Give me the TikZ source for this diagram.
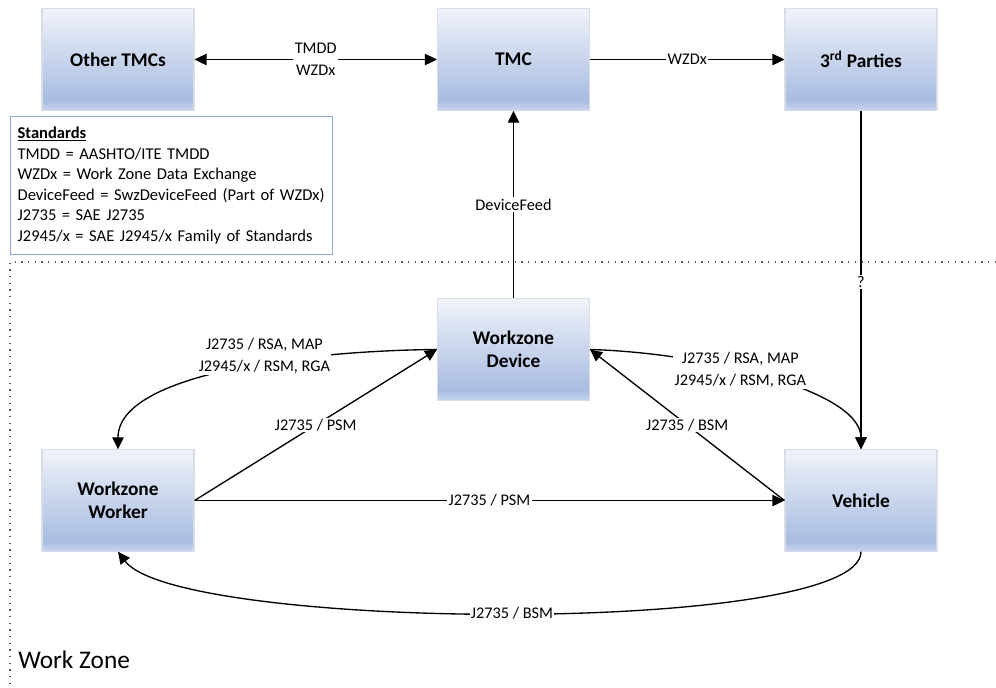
\documentclass[tikz,border=0pt]{standalone}
\usepackage{fontspec}
\setmainfont{Carlito}
\usetikzlibrary{arrows.meta}
\definecolor{boxtop}{RGB}{240,243,250}
\definecolor{boxmid}{RGB}{168,188,225}
\definecolor{boxlow}{RGB}{200,213,238}
\definecolor{boxedge}{RGB}{216,221,230}
\definecolor{stdedge}{RGB}{142,169,219}
\definecolor{dotcol}{RGB}{90,90,90}
\pgfdeclareverticalshading{boxshade}{100bp}{color(0bp)=(boxlow); color(25bp)=(boxlow); color(30bp)=(boxmid); color(75bp)=(boxtop); color(100bp)=(boxtop)}
\begin{document}
\begin{tikzpicture}[x=0.75pt,y=-0.75pt,
  blk/.style={shading=boxshade, draw=boxedge, line width=0.8pt, minimum width=114pt, minimum height=76pt,
    align=center, font=\fontsize{14.5pt}{17.25pt}\selectfont\bfseries, inner sep=2pt},
  lbl/.style={fill=white, inner sep=1pt, align=center, font=\fontsize{12.2pt}{16.5pt}\selectfont},
  arr/.style={line width=1pt, -{Triangle[length=9pt,width=8.5pt]}},
  dbl/.style={line width=1pt, {Triangle[length=9pt,width=8.5pt]}-{Triangle[length=9pt,width=8.5pt]}},
  zoneline/.style={dotcol, line width=1.1pt, dash pattern=on 1.1pt off 3.9pt}]
\useasboundingbox (0,0) rectangle (996,687);
\fill[white] (0,0) rectangle (996,687);

% zone boundary
\coordinate (zc) at (10,262);
\coordinate (zr) at (996,262);
\coordinate (zb) at (10,687);
\draw[zoneline] (zr) -- (zc) -- (zb);
\node[anchor=west, inner sep=0pt, font=\fontsize{19pt}{21pt}\selectfont] (wz) at (18,660) {Work Zone};

% boxes
\node[blk] (other) at (118,59.5) {Other TMCs};
\node[blk] (tmc) at (513.5,59.5) {TMC};
\node[blk] (third) at (861,59.5) {3\textsuperscript{rd} Parties};
\node[blk] (dev) at (513.5,349.5) {Workzone\\Device};
\node[blk] (wrk) at (118,500.5) {Workzone\\Worker};
\node[blk] (veh) at (861,500.5) {Vehicle};

% standards legend
\node[draw=stdedge, line width=0.9pt, anchor=north west, text width=231pt, minimum height=103.5pt,
  inner xsep=5.25pt, align=left, font=\fontsize{12.4pt}{15.45pt}\selectfont] (std) at (10,116)
  {\underline{\textbf{Standards}}\\
   TMDD = AASHTO/ITE TMDD\\
   WZDx = Work Zone Data Exchange\\
   DeviceFeed = SwzDeviceFeed (Part of WZDx)\\
   J2735 = SAE J2735\\
   J2945/x = SAE J2945/x Family of Standards};

% connectors
\draw[dbl] (other) -- node[lbl]{TMDD\\WZDx} (tmc);
\draw[arr] (tmc) -- node[lbl]{WZDx} (third);
\draw[arr] (dev) -- node[lbl]{DeviceFeed} (tmc);
\draw[arr] (third) -- node[lbl, pos=0.505]{?} (veh);
\draw[arr] (wrk.east) -- node[lbl]{J2735 / PSM} (dev.west);
\draw[arr] (wrk.east) -- node[lbl]{J2735 / PSM} (veh.west);
\draw[arr] (veh.west) -- node[lbl]{J2735 / BSM} (dev.east);
\draw[arr] (dev.west) .. controls +(-130,1) and +(0,-76) .. node[lbl, pos=0.41, yshift=6pt]{J2735 / RSA, MAP\\J2945/x / RSM, RGA} (wrk.north);
\draw[arr] (dev.east) .. controls +(111,3) and +(0,-60) .. node[lbl, pos=0.42]{J2735 / RSA, MAP\\J2945/x / RSM, RGA} (veh.north);
\draw[arr] (veh.south) .. controls +(0,84) and +(60,80) .. node[lbl, pos=0.5]{J2735 / BSM} (wrk.south);
\end{tikzpicture}
\end{document}
